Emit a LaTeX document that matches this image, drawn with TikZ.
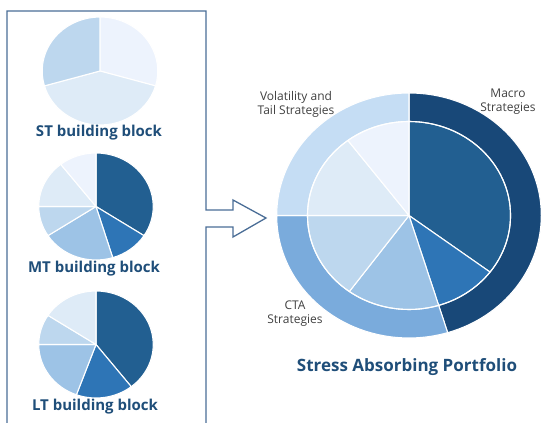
\documentclass[tikz,border=0pt]{standalone}
\usepackage{fontspec}
\setmainfont{Open Sans}
\begin{document}
\definecolor{frameblue}{RGB}{74,109,150}
\definecolor{titleblue}{RGB}{31,78,121}
\definecolor{labelgray}{RGB}{64,64,64}
\definecolor{sA}{RGB}{34,95,145}
\definecolor{sB}{RGB}{46,117,182}
\definecolor{sC}{RGB}{157,195,230}
\definecolor{sD}{RGB}{189,215,238}
\definecolor{sE}{RGB}{222,235,247}
\definecolor{sF}{RGB}{237,243,253}
\definecolor{ringMacro}{RGB}{24,72,120}
\definecolor{ringCTA}{RGB}{122,171,220}
\definecolor{ringVol}{RGB}{197,221,244}
% a pie sector: colour, start angle, end angle, radius
\newcommand\pieslice[4]{%
  \fill[#1,draw=white,line width=1.1pt,line join=round]
    (0,0) -- (#2:#4) arc[start angle=#2,end angle=#3,radius=#4] -- cycle;}
\begin{tikzpicture}[x=1pt,y=1pt,
  blocktitle/.style={font=\bfseries\fontsize{15}{17}\selectfont,text=titleblue},
  ringlabel/.style={font=\fontsize{12}{14}\selectfont,text=labelgray,align=center},
  frameline/.style={draw=frameblue,line width=1.3pt,line join=miter}]
\useasboundingbox (0,0) rectangle (541,423);

% frame of the building blocks, opening into the arrow
\coordinate (f1) at (7,0);
\coordinate (f2) at (7,412);
\coordinate (f3) at (206,412);
\coordinate (f4) at (206,213);
\coordinate (f5) at (233,213);
\coordinate (f6) at (233,223);
\coordinate (tip) at (266,205);
\coordinate (f7) at (233,186);
\coordinate (f8) at (233,196);
\coordinate (f9) at (206,196);
\coordinate (f10) at (206,0);
\draw[frameline] (f1) -- (f2) -- (f3) -- (f4) -- (f5) -- (f6) -- (tip)
  -- (f7) -- (f8) -- (f9) -- (f10);

% ST building block
\begin{scope}[shift={(100,352)},xscale=1.07]
  \pieslice{sF}{90}{-16}{54}
  \pieslice{sE}{-16}{-164}{54}
  \pieslice{sD}{196}{90}{54}
\end{scope}
\node[blocktitle] (st) at (99,290) {ST building block};

% MT building block
\begin{scope}[shift={(96,216.5)},xscale=1.07]
  \pieslice{sA}{90}{-33}{53.5}
  \pieslice{sB}{-33}{-73}{53.5}
  \pieslice{sC}{-73}{-147}{53.5}
  \pieslice{sD}{213}{180}{53.5}
  \pieslice{sE}{180}{128}{53.5}
  \pieslice{sF}{128}{90}{53.5}
\end{scope}
\node[blocktitle] (mt) at (94,154) {MT building block};

% LT building block
\begin{scope}[shift={(96,78.5)},xscale=1.07]
  \pieslice{sA}{90}{-52}{53.5}
  \pieslice{sB}{-52}{-110}{53.5}
  \pieslice{sC}{-110}{-180}{53.5}
  \pieslice{sD}{180}{147}{53.5}
  \pieslice{sE}{147}{90}{53.5}
\end{scope}
\node[blocktitle] (lt) at (95,16) {LT building block};

% Stress absorbing portfolio: strategy ring and inner pie
\begin{scope}[shift={(409,207.5)},xscale=1.08]
  \pieslice{ringMacro}{90}{-73}{122.5}
  \pieslice{ringCTA}{-73}{-180}{122.5}
  \pieslice{ringVol}{180}{90}{122.5}
  \pieslice{sA}{90}{-37}{94}
  \pieslice{sB}{-37}{-73}{94}
  \pieslice{sC}{-73}{-126}{94}
  \pieslice{sD}{234}{180}{94}
  \pieslice{sE}{180}{127}{94}
  \pieslice{sF}{127}{90}{94}
  \draw[white,line width=1.1pt] (0,0) circle[radius=94];
\end{scope}
\node[ringlabel] (vol) at (296,319) {Volatility and\\Tail Strategies};
\node[ringlabel] (macro) at (508,321) {Macro\\Strategies};
\node[ringlabel] (cta) at (295,109) {CTA\\Strategies};
\node[blocktitle,font=\bfseries\fontsize{17}{19}\selectfont] (sap) at (407,56)
  {Stress Absorbing Portfolio};
\end{tikzpicture}
\end{document}
